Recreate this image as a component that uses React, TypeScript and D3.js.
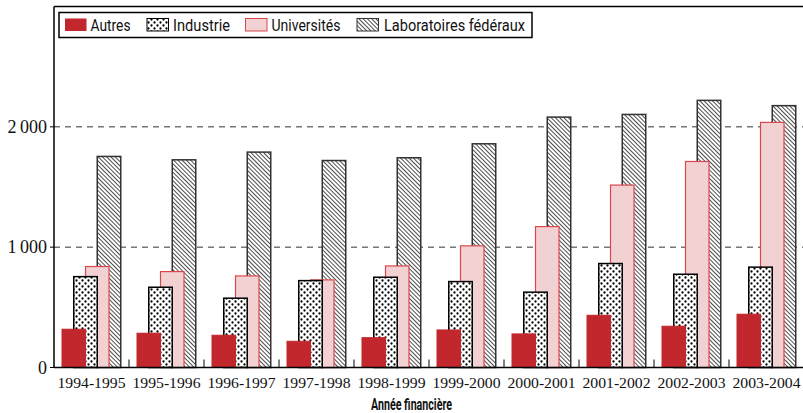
import React from "react";
import * as d3 from "d3";

const categories = ["1994-1995", "1995-1996", "1996-1997", "1997-1998", "1998-1999", "1999-2000", "2000-2001", "2001-2002", "2002-2003", "2003-2004"];
const autres = [318, 285, 268, 218, 248, 312, 279, 434, 343, 443];
const industrie = [755, 667, 576, 722, 750, 714, 626, 864, 775, 834];
const universites = [839, 797, 761, 728, 844, 1011, 1171, 1516, 1712, 2037];
const laboratoires = [1754, 1726, 1790, 1720, 1743, 1859, 2081, 2103, 2220, 2176];
const yTicks = [0, 1000, 2000];
const seriesNames = ["Autres", "Industrie", "Universités", "Laboratoires fédéraux"];
const xTitle = "Année financière";

const W = 803, H = 413;
const left = 54, right = 804, top = 6.5, bottom = 367.5;
const sansNarrow = "'Liberation Sans Narrow', 'Roboto', 'Open Sans', sans-serif";

export default function App() {
  const x = d3.scaleBand<string>().domain(categories).range([left, right]).padding(0);
  const y = d3.scaleLinear().domain([0, 3000]).range([bottom, top]);
  const fmt = (v: number) => (v === 0 ? "0" : d3.format(",")(v).replace(",", "\u2009"));

  const series = [
    { name: seriesNames[0], values: autres, fill: "#c1272d", stroke: "#c1272d", sw: 1 },
    { name: seriesNames[1], values: industrie, fill: "url(#dots)", stroke: "#000", sw: 1.5 },
    { name: seriesNames[2], values: universites, fill: "#f2d1d3", stroke: "#d9474d", sw: 1.2 },
    { name: seriesNames[3], values: laboratoires, fill: "url(#hatch)", stroke: "#333", sw: 1.5 },
  ];
  const barW = 23.5;
  const off = (i: number) => 8 + i * 11.75;

  const legendItems = [
    { sx: 65, tx: 90.5, tw: 40 },
    { sx: 147, tx: 173, tw: 57 },
    { sx: 245.5, tx: 271.5, tw: 69 },
    { sx: 357, tx: 384, tw: 141 },
  ];

  return (
    <svg width={W} height={H} style={{ position: "absolute", left: 0, top: 0, background: "#fff" }}>
      <defs>
        <pattern id="dots" width="6" height="6" patternUnits="userSpaceOnUse">
          <rect width="6" height="6" fill="#fff" />
          <circle cx="1.5" cy="1.5" r="1.15" fill="#000" />
          <circle cx="4.5" cy="4.5" r="1.15" fill="#000" />
        </pattern>
        <pattern id="hatch" width="3" height="3" patternUnits="userSpaceOnUse" patternTransform="rotate(-45)">
          <rect width="3" height="3" fill="#fff" />
          <line x1="0" y1="0" x2="0" y2="3" stroke="#111" strokeWidth="1.5" />
        </pattern>
      </defs>

      {/* gridlines */}
      {yTicks.filter((t) => t > 0).map((t) => (
        <line key={t} x1={left} x2={W} y1={y(t)} y2={y(t)} stroke="#333" strokeWidth={1} strokeDasharray="6,5" />
      ))}

      {/* bars: back to front */}
      {categories.map((c, ci) => (
        <g key={c}>
          {[3, 2, 1, 0].map((si) => {
            const s = series[si];
            const v = s.values[ci];
            return (
              <rect
                key={si}
                x={(x(c) as number) + off(si)}
                y={y(v)}
                width={barW}
                height={y(0) - y(v)}
                fill={s.fill}
                stroke={s.stroke}
                strokeWidth={s.sw}
              />
            );
          })}
        </g>
      ))}

      {/* frame */}
      <line x1={left} x2={W} y1={top} y2={top} stroke="#000" strokeWidth={1.5} />
      <line x1={left} x2={left} y1={top} y2={bottom} stroke="#000" strokeWidth={1.5} />
      <line x1={left} x2={W} y1={bottom} y2={bottom} stroke="#000" strokeWidth={1.5} />

      {/* x ticks between groups */}
      {categories.slice(1).map((c) => (
        <line key={c} x1={x(c) as number} x2={x(c) as number} y1={bottom} y2={bottom - 8} stroke="#000" strokeWidth={1} />
      ))}

      {/* y ticks and labels */}
      {yTicks.map((t) => (
        <g key={t}>
          <line x1={left - 4} x2={left} y1={y(t)} y2={y(t)} stroke="#000" strokeWidth={1} />
          <text x={47} y={y(t) + 6} textAnchor="end" fontFamily="'Liberation Serif', serif" fontSize={18} fill="#111">
            {fmt(t)}
          </text>
        </g>
      ))}

      {/* x labels */}
      {categories.map((c) => (
        <text key={c} x={(x(c) as number) + x.bandwidth() / 2} y={388} textAnchor="middle" fontFamily="'Liberation Serif', serif" fontSize={15.5} fill="#111" textLength={68} lengthAdjust="spacingAndGlyphs">
          {c}
        </text>
      ))}

      <text x={411.5} y={409.5} textAnchor="middle" fontFamily={sansNarrow} fontWeight="bold" fontSize={16} fill="#111" textLength={81} lengthAdjust="spacingAndGlyphs">
        {xTitle}
      </text>

      {/* legend */}
      <rect x={59} y={12.5} width={473} height={25} fill="#fff" stroke="#000" strokeWidth={1.5} />
      {series.map((s, i) => {
        const it = legendItems[i];
        return (
          <g key={s.name}>
            <rect x={it.sx} y={18.5} width={21.5} height={12.5} fill={s.fill} stroke={s.stroke} strokeWidth={i === 0 ? 0 : 1} />
            <text x={it.tx} y={31} fontFamily={sansNarrow} fontSize={16.5} fill="#111" textLength={it.tw} lengthAdjust="spacingAndGlyphs">
              {s.name}
            </text>
          </g>
        );
      })}
    </svg>
  );
}
